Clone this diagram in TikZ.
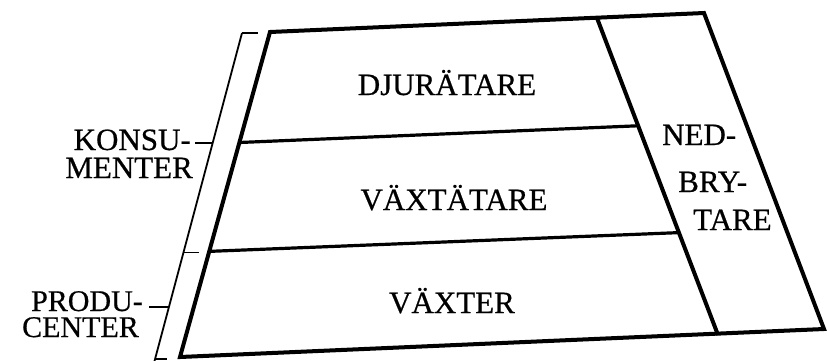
\documentclass[tikz,border=0pt]{standalone}
\usepackage{fontspec}
\setmainfont{Liberation Serif}[FakeBold=0.6]
\usetikzlibrary{calc}
\begin{document}
\begin{tikzpicture}[x=1pt,y=-1pt,
  frame/.style={line width=4pt, line join=miter},
  layerline/.style={line width=3.2pt},
  bracket/.style={line width=1.8pt},
  tickline/.style={line width=1.5pt},
  lbl/.style={font=\fontsize{31}{31}\selectfont, inner sep=0pt},
  sidelbl/.style={lbl, text height=20pt, text depth=0pt, anchor=base east},
]
\useasboundingbox (0,0) rectangle (827,360);

% outer trapezoid and the decomposer strip
\coordinate (TL) at (270,32);
\coordinate (TR) at (704,13);
\coordinate (BR) at (824,329);
\coordinate (BL) at (180,357);
\coordinate (DT) at (597,18);
\coordinate (DB) at (718,335);
\draw[frame] (TL) -- (TR) -- (BR) -- (BL) -- cycle;
\draw[frame] (DT) -- (DB);

% boundaries between the trophic levels
\coordinate (L1a) at ($(TL)!0.34!(BL)$);
\coordinate (L1b) at ($(DT)!0.34!(DB)$);
\coordinate (L2a) at ($(TL)!0.675!(BL)$);
\coordinate (L2b) at ($(DT)!0.677!(DB)$);
\draw[layerline] (L1a) -- (L1b);
\draw[layerline] (L2a) -- (L2b);

% bracket on the left
\coordinate (BkT) at (242,33);
\coordinate (BkB) at (154,363);
\draw[bracket] (BkT) -- (BkB);
\draw[tickline] (BkT) -- ++(16,0);
\coordinate (BkMid) at ($(BkT)!0.6657!(BkB)$);
\draw[tickline] (BkMid) -- ++(16,0);
\coordinate (BkEnd) at ($(BkT)!0.988!(BkB)$);
\draw[tickline] (BkEnd) -- ++(12,0);
\coordinate (KonsLead) at ($(BkT)!0.334!(BkB)$);
\coordinate (ProdLead) at ($(BkT)!0.83!(BkB)$);
\draw[tickline] (KonsLead) -- ++(-18,0) coordinate (KonsEnd);
\draw[tickline] (ProdLead) -- ++(-20,0) coordinate (ProdEnd);

% level names
\node[lbl, anchor=base] (djur) at (447,95) {DJURÄTARE};
\node[lbl, anchor=base] (vaxtat) at (454,210) {VÄXTÄTARE};
\node[lbl, anchor=base] (vaxter) at (452,313) {VÄXTER};

% decomposers
\node[lbl, anchor=base west] (ned) at (662,145) {NED-};
\node[lbl, anchor=base west] (bry) at (678,192) {BRY-};
\node[lbl, anchor=base west] (tare) at (693,230) {TARE};

% side labels
\node[sidelbl] (konsu) at (191,150) {KONSU-};
\node[sidelbl] (menter) at (193,178) {MENTER};
\node[sidelbl, font=\fontsize{30}{30}\selectfont] (produ) at (143,311) {PRODU-};
\node[sidelbl, font=\fontsize{30}{30}\selectfont] (center) at (139,337) {CENTER};
\end{tikzpicture}
\end{document}
